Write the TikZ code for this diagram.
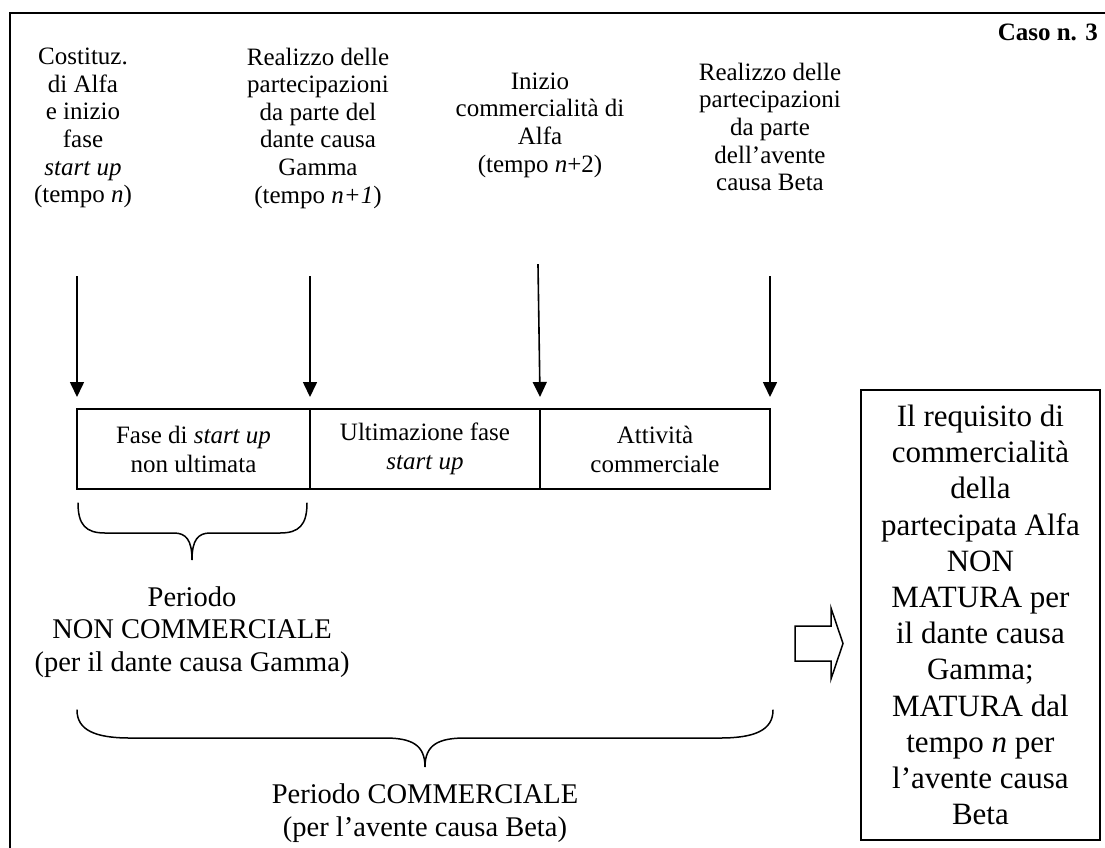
\documentclass[tikz,border=0pt]{standalone}
\usepackage{fontspec}
\setmainfont{Liberation Serif}
\usetikzlibrary{arrows.meta,positioning}

\begin{document}
\begin{tikzpicture}[x=1pt,y=-1pt,line cap=rect,
    toptext/.style={inner sep=0, outer sep=0, align=center, font=\fontsize{25}{27.6}\selectfont},
    lowtext/.style={inner sep=0, outer sep=0, align=center, font=\fontsize{28.5}{32.8}\selectfont},
    barcell/.style={draw, line width=1.3pt, inner sep=0, outer sep=0, minimum height=80, align=center, font=\fontsize{25}{29}\selectfont},
    droparrow/.style={line width=1.6pt, -{Triangle[width=14pt,length=15pt]}},
    bracepath/.style={line width=1.5pt, line cap=round}]
    \useasboundingbox (0,0) rectangle (1105,847);
    % cornice
    \draw [line width=2.0pt] (10,847) -- (10,13) -- (1105,13);
    \node[inner sep=0, anchor=east, font=\bfseries\fontsize{25}{25}\selectfont] (caso) at (1098,32) {Caso n. 3};
    % eventi
    \node[toptext] (evA) at (83,128) {Costituz.\\di Alfa\\e inizio\\fase\\\textit{start up}\\(tempo \textit{n})};
    \node[toptext] (evB) at (318,128) {Realizzo delle\\partecipazioni\\da parte del\\dante causa\\Gamma\\(tempo \textit{n+1})};
    \node[toptext] (evC) at (540,125) {Inizio\\commercialità di\\Alfa\\(tempo \textit{n}+2)};
    \node[toptext] (evD) at (770,127) {Realizzo delle\\partecipazioni\\da parte\\dell’avente\\causa Beta};
    % barra delle fasi
    \node[barcell, minimum width=233, anchor=north west] (cellA) at (77,409) {Fase di \textit{start up}\\non ultimata};
    \node[barcell, minimum width=230, right=0pt of cellA] (cellB) {Ultimazione fase\\\textit{start up}};
    \node[barcell, minimum width=230, right=0pt of cellB] (cellC) {Attività\\commerciale};
    \coordinate (tA) at (77,277);
    \coordinate (tB) at (310,277);
    \coordinate (tC) at (538,265);
    \coordinate (tD) at (770,277);
    \draw[droparrow] (tA) -- ([yshift=12pt]cellA.north west);
    \draw[droparrow] (tB) -- ([yshift=12pt]cellB.north west);
    \draw[droparrow] (tC) -- ([yshift=12pt]cellC.north west);
    \draw[droparrow] (tD) -- ([yshift=12pt]cellC.north east);
    % graffe
    \draw[bracepath] (78,503) .. controls (78,525) and (86,533) .. (105,533) -- (174,533) .. controls (186,533) and (192,540) .. (192,560) .. controls (192,540) and (198,533) .. (210,533) -- (280,533) .. controls (299,533) and (307,525) .. (307,503);
    \draw[bracepath] (77,710) .. controls (77,730) and (95,738) .. (130,738) -- (385,738) .. controls (412,738) and (425,745) .. (425,767) .. controls (425,745) and (438,738) .. (465,738) -- (720,738) .. controls (755,738) and (773,730) .. (773,710);
    \node[lowtext] (perA) at (192,632) {Periodo\\NON COMMERCIALE\\(per il dante causa Gamma)};
    \node[lowtext] (perB) at (425,813) {Periodo COMMERCIALE\\(per l’avente causa Beta)};
    % freccia vuota ed esito
    \draw[line width=1.5pt, line join=miter] (795,626) -- (831,626) -- (831,608) -- (843,643.5) -- (831,679) -- (831,661) -- (795,661) -- cycle;
    \node[draw, line width=1.8pt, minimum width=239, minimum height=450, anchor=north west, inner sep=0, align=center, font=\fontsize{31}{36.2}\selectfont] (esito) at (860,389) {Il requisito di\\commercialità\\della\\partecipata Alfa\\NON\\MATURA per\\il dante causa\\Gamma;\\MATURA dal\\tempo \textit{n} per\\l’avente causa\\Beta};
\end{tikzpicture}
\end{document}
